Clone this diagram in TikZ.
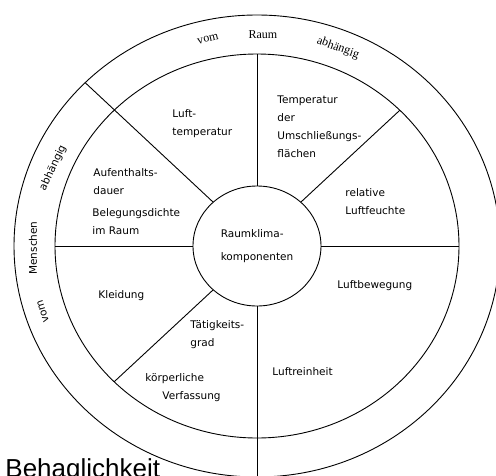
\documentclass[tikz,border=0pt]{standalone}
\usepackage{fontspec}
\setmainfont{DejaVu Sans}
\newfontfamily\roomfont{Liberation Serif}
\newfontfamily\titlefont{Liberation Sans}
\usetikzlibrary{shapes.geometric}

\begin{document}
\begin{tikzpicture}
	[x=1pt,y=1pt,line width=0.9pt,
		label node/.style={align=left,anchor=west,inner sep=0pt,font=\fontsize{10.5}{18}\selectfont},
		ring node/.style={inner sep=0pt,font=\fontsize{10.5}{12}\selectfont},
		room node/.style={inner sep=0pt,font=\roomfont\fontsize{12}{14}\selectfont},
		core node/.style={ellipse,draw,minimum width=128pt,minimum height=120pt,inner sep=0pt,align=left,font=\fontsize{10.5}{23}\selectfont}]

	\useasboundingbox (-257,-229) rectangle (239,246);

	% rings
	\draw (0,0) ellipse [x radius=243pt, y radius=231pt];
	\draw (0,0) ellipse [x radius=202pt, y radius=192pt];
	\node[core node] (core) at (0,0) {Raumklima-\\komponenten};

	\foreach \a in {0,45,...,315} {
		\coordinate (mid\a) at (\a:202pt and 192pt);
		\coordinate (out\a) at (\a:243pt and 231pt);
	}

	% spokes
	\foreach \a in {0,45,90,180,225}
		\draw (core.\a) -- (mid\a);
	\draw (core.135) -- (out135);
	\draw (core.270) -- (out270);

	% segments
	\node[label node] (lufttemp)  at (-85,122.5) {Luft-\\temperatur};
	\node[label node] (umschl)    at (20,119.5)  {Temperatur\\der\\Umschließungs-\\flächen};
	\node[label node] (feuchte)   at (88,44)     {relative\\Luftfeuchte};
	\node[label node] (bewegung)  at (80,-40)    {Luftbewegung};
	\node[label node] (reinheit)  at (15,-126)   {Luftreinheit};
	\node[label node] (taetig)    at (-67,-88.5) {Tätigkeits-\\grad};
	\node[label node] (koerper)   at (-112,-141.5) {körperliche\\\hspace*{17pt}Verfassung};
	\node[label node] (kleidung)  at (-159,-50)  {Kleidung};
	\node[label node] (aufenth)   at (-164,64.5) {Aufenthalts-\\dauer};
	\node[label node] (belegung)  at (-165,24.5) {Belegungsdichte\\im Raum};

	% outer ring
	\node[room node, rotate=13]  (raumvom) at (-49,207) {vom};
	\node[room node]             (raum)    at (6,211)   {Raum};
	\node[room node, rotate=-20] (raumabh) at (81,198)  {abhängig};
	\node[ring node, rotate=65]  (menschabh) at (-204,78) {abhängig};
	\node[ring node, rotate=90]  (mensch)    at (-224,-2) {Menschen};
	\node[ring node, rotate=107] (menschvom) at (-214,-65) {vom};

	\node[anchor=base west,inner sep=0pt,font=\titlefont\fontsize{26}{30}\selectfont] (title) at (-252,-231) {Behaglichkeit};

\end{tikzpicture}
\end{document}
